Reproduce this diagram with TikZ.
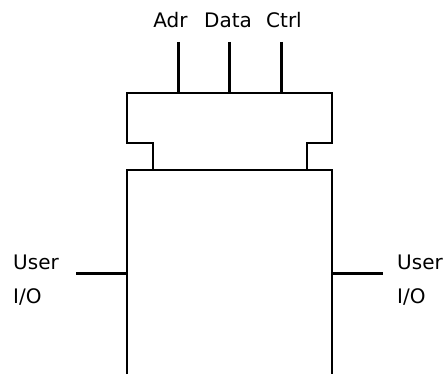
\documentclass[tikz,border=0pt]{standalone}
\usepackage{fontspec}
\setmainfont{DejaVu Sans}
\tikzset{
  box/.style={line width=1.8pt},
  bus/.style={line width=3pt},
  lbl/.style={font=\fontsize{20}{24}\selectfont, anchor=base, inner sep=0pt}
}
\begin{document}
\begin{tikzpicture}[x=1pt,y=-1pt]
\useasboundingbox (0,0) rectangle (446,374);
% Bus interface
\draw[box] (153,170) -- (153,143) -- (127,143) -- (127,93) -- (332,93)
  -- (332,143) -- (307,143) -- (307,170);
% Device
\draw[box] (127,374) -- (127,170) -- (332,170) -- (332,374);

% Bus labels
\node[lbl] (adr) at (170.5,27.5) {Adr};
\node[lbl] (data) at (228,27.5) {Data};
\node[lbl] (ctrl) at (284,27.5) {Ctrl};

% Bus lines
\coordinate (adrtop) at (178,42);  \coordinate (adrbot) at (178,93);
\coordinate (datatop) at (229,42); \coordinate (databot) at (229,93);
\coordinate (ctrltop) at (281,42); \coordinate (ctrlbot) at (281,93);
\draw[bus] (adrtop) -- (adrbot);
\draw[bus] (datatop) -- (databot);
\draw[bus] (ctrltop) -- (ctrlbot);

% User I/O
\node[lbl, anchor=base west] (userl) at (13,269) {User};
\node[lbl, anchor=base west] (iol) at (13,303) {I/O};
\node[lbl, anchor=base west] (userr) at (397,269) {User};
\node[lbl, anchor=base west] (ior) at (397,303) {I/O};
\coordinate (lout) at (76,273);  \coordinate (lin) at (127,273);
\coordinate (rin) at (332,273);  \coordinate (rout) at (383,273);
\draw[bus] (lout) -- (lin);
\draw[bus] (rin) -- (rout);
\end{tikzpicture}
\end{document}
